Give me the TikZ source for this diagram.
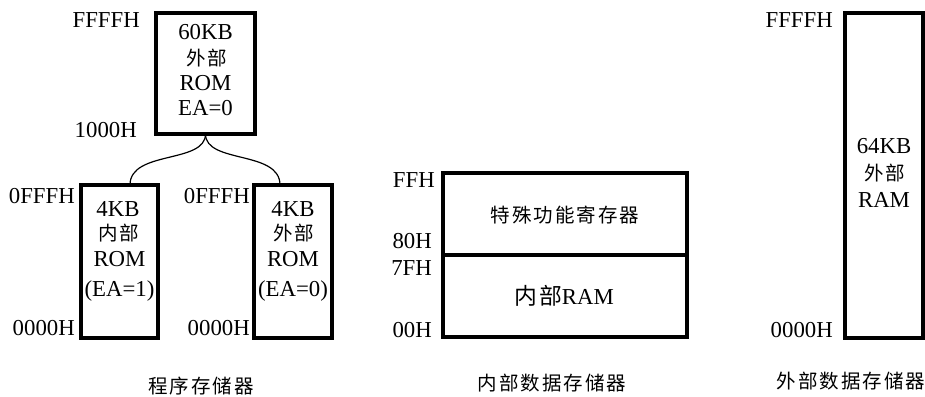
\documentclass[tikz,border=0pt]{standalone}
\usepackage{fontspec}
\setmainfont{Liberation Serif}
\newfontfamily\cjk[LetterSpace=10]{Noto Sans CJK SC}
\begin{document}
\begin{tikzpicture}[x=1pt,y=1pt,
  membox/.style={draw, line width=3.2pt, inner sep=0pt, outer sep=0pt},
  lab/.style={font=\fontsize{22.8}{25}\selectfont, inner sep=0pt, anchor=base east},
  txt/.style={font=\fontsize{22.8}{25}\selectfont, inner sep=0pt, anchor=base},
  cn/.style={font=\fontsize{19.5}{21}\selectfont\cjk, inner sep=0pt, anchor=center},
  captxt/.style={font=\fontsize{19.5}{21}\selectfont\cjk, inner sep=0pt, anchor=center},
  brace/.style={line width=1.2pt}]
\useasboundingbox (0,0) rectangle (925,-396);
% boxes
\node[membox, minimum width=99pt, minimum height=121pt] (top) at (205.5,-73.5) {};
\node[membox, minimum width=77pt, minimum height=153pt] (lbox) at (119.5,-261.5) {};
\node[membox, minimum width=78pt, minimum height=153pt] (rbox) at (293,-261.5) {};
\node[membox, minimum width=244pt, minimum height=164pt] (mbox) at (565,-255) {};
\draw[line width=3.2pt] (mbox.west) -- (mbox.east);
\node[membox, minimum width=78pt, minimum height=325pt] (xbox) at (884,-175.5) {};
% brace
\coordinate (bl) at (130,-185);
\coordinate (br) at (280,-185);
\draw[brace] (top.south) .. controls +(0,-30) and +(0,35) .. (bl);
\draw[brace] (top.south) .. controls +(0,-30) and +(0,35) .. (br);
% address labels
\node[lab] (a1) at (140,-28) {FFFFH};
\node[lab] (a2) at (137,-137) {1000H};
\node[lab] (a3) at (75,-203) {0FFFH};
\node[lab] (a4) at (75,-335) {0000H};
\node[lab] (a5) at (250,-203) {0FFFH};
\node[lab] (a6) at (250,-335) {0000H};
\node[lab] (a7) at (435,-187) {FFH};
\node[lab] (a8) at (432,-248) {80H};
\node[lab] (a9) at (432,-275) {7FH};
\node[lab] (a10) at (432,-337) {00H};
\node[lab] (a11) at (833,-28) {FFFFH};
\node[lab] (a12) at (833,-337) {0000H};
% top box text
\node[txt] (t1) at (205.5,-40) {60KB};
\node[cn] (t2) at (206.5,-58) {外部};
\node[txt] (t3) at (205.5,-90) {ROM};
\node[txt] (t4) at (205.5,-115) {EA=0};
% left box text
\node[txt] (l1) at (118,-216) {4KB};
\node[cn] (l2) at (119,-233) {内部};
\node[txt] (l3) at (119.5,-266) {ROM};
\node[txt] (l4) at (119.5,-296) {(EA=1)};
% right small box text
\node[txt] (r1) at (293,-216) {4KB};
\node[cn] (r2) at (294,-233) {外部};
\node[txt] (r3) at (293,-266) {ROM};
\node[txt] (r4) at (293,-296) {(EA=0)};
% middle
\node[cn] (m1) at (565,-215) {特殊功能寄存器};
\node[txt] (m2) at (564,-304) {{\cjk 内部}RAM};
% far right
\node[txt] (x1) at (884,-153) {64KB};
\node[cn] (x2) at (885,-173) {外部};
\node[txt] (x3) at (884,-207) {RAM};
% captions
\node[captxt] (c1) at (201,-386) {程序存储器};
\node[captxt] (c2) at (552,-383) {内部数据存储器};
\node[captxt] (c3) at (851,-381) {外部数据存储器};
\end{tikzpicture}
\end{document}
